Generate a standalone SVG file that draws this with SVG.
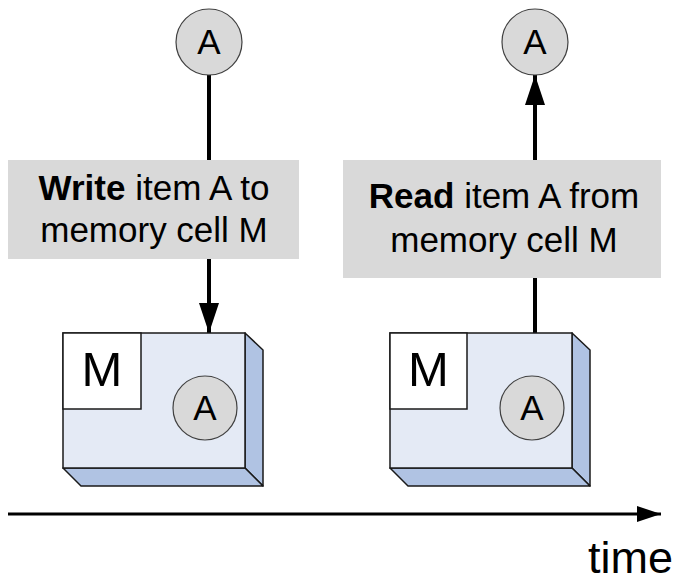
<svg xmlns="http://www.w3.org/2000/svg" width="678" height="586" viewBox="0 0 678 586">
<defs>
<style>
text{font-family:"Liberation Sans",Arial,sans-serif;fill:#000;text-anchor:middle}
.lbl{font-size:35px}
.lbl .b{font-weight:bold}
.big{font-size:49px}
.circ{fill:#d9d9d9;stroke:#404040;stroke-width:1.2}
.front{fill:#e4eaf5;stroke:#1a1a1a;stroke-width:1.5}
.side{fill:#b0c3e3;stroke:#1a1a1a;stroke-width:1.5;stroke-linejoin:round}
.mbox{fill:#fff;stroke:#1a1a1a;stroke-width:1.5}
.gray{fill:#d9d9d9}
.conn{stroke:#000;stroke-width:4;fill:none}
</style>
<marker id="ah" markerUnits="userSpaceOnUse" markerWidth="30" markerHeight="30" viewBox="0 0 30 20" refX="30" refY="10" orient="auto">
<path d="M0,0 L30,10 L0,20 Z" fill="#000"/>
</marker>
<marker id="ah2" markerUnits="userSpaceOnUse" markerWidth="24" markerHeight="16" viewBox="0 0 24 16" refX="24" refY="8" orient="auto">
<path d="M0,0 L24,8 L0,16 Z" fill="#000"/>
</marker>
</defs>

<g id="connectors">
<line class="conn" x1="209" y1="75" x2="209" y2="333" marker-end="url(#ah)"/>
<line class="conn" x1="535" y1="333" x2="535" y2="75" marker-end="url(#ah)"/>
<line x1="8" y1="514" x2="661" y2="514" stroke="#000" stroke-width="3" marker-end="url(#ah2)"/>
</g>

<g id="itemA-top-left">
<circle class="circ" cx="209" cy="42" r="33"/>
<text class="lbl" x="209" y="54">A</text>
</g>
<g id="itemA-top-right">
<circle class="circ" cx="535" cy="42" r="33"/>
<text class="lbl" x="535" y="54">A</text>
</g>

<g id="label-write">
<rect class="gray" x="8" y="160" width="291" height="99"/>
<text class="lbl" x="154" y="200"><tspan class="b">Write</tspan> item A to</text>
<text class="lbl" x="154" y="242">memory cell M</text>
</g>
<g id="label-read">
<rect class="gray" x="343" y="160" width="318" height="118"/>
<text class="lbl" x="504" y="208"><tspan class="b">Read</tspan> item A from</text>
<text class="lbl" x="504" y="252">memory cell M</text>
</g>

<g id="cell-left">
<polygon class="side" points="245,333 263,350 263,486 245,468"/>
<polygon class="side" points="63,468 245,468 263,486 81,486"/>
<rect class="front" x="63" y="333" width="182" height="135"/>
<rect class="mbox" x="63" y="333" width="78" height="76"/>
<text class="big" x="102" y="386">M</text>
<circle class="circ" cx="205" cy="408" r="32"/>
<text class="lbl" x="205" y="420">A</text>
</g>
<g id="cell-right">
<polygon class="side" points="572,333 590,350 590,486 572,468"/>
<polygon class="side" points="390,468 572,468 590,486 408,486"/>
<rect class="front" x="390" y="333" width="182" height="135"/>
<rect class="mbox" x="390" y="333" width="77" height="76"/>
<text class="big" x="428.5" y="386">M</text>
<circle class="circ" cx="532" cy="408" r="32"/>
<text class="lbl" x="532" y="420">A</text>
</g>

<g id="time-label">
<text x="673" y="573" style="font-size:45px;text-anchor:end">time</text>
</g>
</svg>
